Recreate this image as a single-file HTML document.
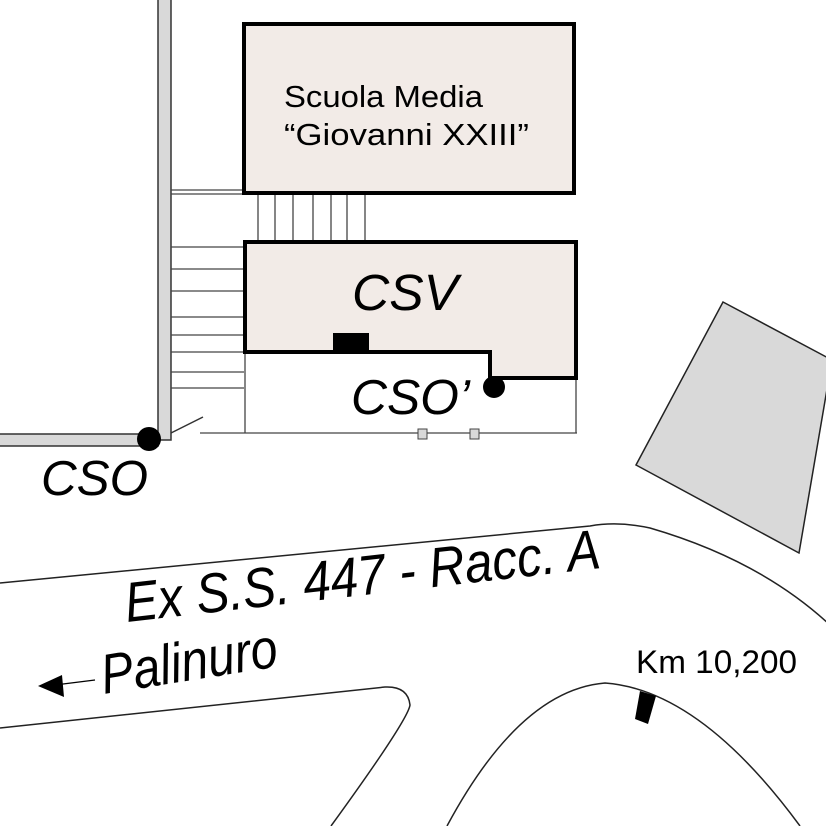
<!DOCTYPE html>
<html><head><style>body{margin:0;background:#fff}svg{display:block}</style></head><body>
<svg width="826" height="826" viewBox="0 0 826 826" xmlns="http://www.w3.org/2000/svg" font-family="Liberation Sans, sans-serif">
<rect width="826" height="826" fill="#fff"/>
<!-- walls -->
<rect x="158" y="-2" width="13" height="442" fill="#d9d9d9" stroke="#333" stroke-width="1.5"/>
<rect x="-2" y="434" width="160" height="12" fill="#d9d9d9" stroke="#333" stroke-width="1.5"/>
<line x1="171" y1="433" x2="203" y2="417" stroke="#333" stroke-width="1.5"/>
<!-- stairs -->
<g stroke="#444" stroke-width="1.3">
<line x1="171" y1="190" x2="244" y2="190"/><line x1="171" y1="194" x2="244" y2="194"/>
<line x1="171" y1="247" x2="244" y2="247"/><line x1="171" y1="269" x2="244" y2="269"/>
<line x1="171" y1="291" x2="244" y2="291"/><line x1="171" y1="317" x2="244" y2="317"/>
<line x1="171" y1="335" x2="244" y2="335"/><line x1="171" y1="352" x2="244" y2="352"/>
<line x1="171" y1="372" x2="244" y2="372"/><line x1="171" y1="388" x2="244" y2="388"/>
<line x1="258" y1="193" x2="258" y2="241"/><line x1="275" y1="193" x2="275" y2="241"/>
<line x1="293" y1="193" x2="293" y2="241"/><line x1="313" y1="193" x2="313" y2="241"/>
<line x1="331" y1="193" x2="331" y2="241"/><line x1="347" y1="193" x2="347" y2="241"/>
<line x1="365" y1="193" x2="365" y2="241"/>
<line x1="245" y1="352" x2="245" y2="433"/><line x1="576" y1="378" x2="576" y2="433"/>
<line x1="200" y1="433" x2="577" y2="433"/>
</g>
<rect x="418" y="429" width="9" height="10" fill="#d9d9d9" stroke="#444"/>
<rect x="470" y="429" width="9" height="10" fill="#d9d9d9" stroke="#444"/>
<!-- buildings -->
<rect x="244" y="24" width="330" height="169" fill="#f2ebe7" stroke="#000" stroke-width="4"/>
<text x="284" y="107" font-size="31" textLength="199" lengthAdjust="spacingAndGlyphs">Scuola Media</text>
<text x="284" y="145" font-size="31" textLength="245" lengthAdjust="spacingAndGlyphs">“Giovanni XXIII”</text>
<path d="M245 242 H576 V378 H490 V352 H245 Z" fill="#f2ebe7" stroke="#000" stroke-width="4"/>
<rect x="333" y="333" width="36" height="19" fill="#000"/>
<circle cx="494" cy="387" r="11" fill="#000"/>
<circle cx="149" cy="439" r="12" fill="#000"/>
<text x="352" y="310" font-size="51" font-style="italic" textLength="106" lengthAdjust="spacingAndGlyphs">CSV</text>
<text x="351" y="414" font-size="49" font-style="italic" textLength="119" lengthAdjust="spacingAndGlyphs">CSO’</text>
<text x="41" y="495" font-size="49" font-style="italic" textLength="107" lengthAdjust="spacingAndGlyphs">CSO</text>
<!-- gray block -->
<polygon points="723,302 832,360 799,553 636,465" fill="#d9d9d9" stroke="#222" stroke-width="1.5"/>
<!-- roads -->
<g fill="none" stroke="#222" stroke-width="1.5">
<path d="M0 583 L590 526 Q618 521 650 528 Q760 560 830 625"/>
<path d="M0 728 L385 687 Q408 686 410 705 Q408 720 331 826"/>
<path d="M447 826 Q520 690 605 683 Q700 690 800 826"/>
</g>
<polygon points="640,691 656,696 648,724 635,719" fill="#000"/>
<text x="636" y="673" font-size="32" textLength="161" lengthAdjust="spacingAndGlyphs">Km 10,200</text>
<text transform="translate(127,622) rotate(-6.5)" font-size="56" font-style="italic" textLength="478" lengthAdjust="spacingAndGlyphs">Ex S.S. 447 - Racc. A</text>
<text transform="translate(104,694) rotate(-9)" font-size="56" font-style="italic" textLength="178" lengthAdjust="spacingAndGlyphs">Palinuro</text>
<line x1="55" y1="685" x2="95" y2="680" stroke="#000" stroke-width="1.3"/>
<polygon points="38,686 62,675 64,697" fill="#000"/>
</svg>
</body></html>
